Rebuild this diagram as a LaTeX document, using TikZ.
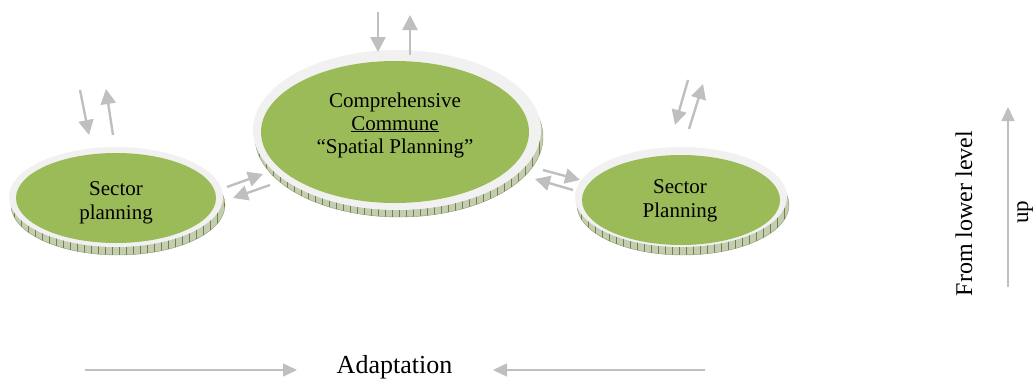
\documentclass[tikz,border=0pt]{standalone}
\usepackage{fontspec}
\setmainfont{Liberation Serif}
\usetikzlibrary{arrows.meta}
\usetikzlibrary{patterns.meta}
\usepgflibrary{shapes.geometric}
\usetikzlibrary{positioning}

\definecolor{leaf}{RGB}{155,187,89}
\definecolor{rimgray}{RGB}{241,241,241}
\definecolor{basegreen}{RGB}{196,204,178}
\definecolor{tick}{RGB}{112,132,72}
\definecolor{flowgray}{RGB}{191,191,191}

\begin{document}
\begin{tikzpicture}
  [x=1pt, y=-1pt,
  base/.style={shape=ellipse, inner sep=0pt, fill=basegreen, draw=tick!80, thin,
         postaction={pattern={Lines[angle=90,distance=7pt,line width=0.6pt]}, pattern color=tick}},
  rim/.style={shape=ellipse, inner sep=0pt, fill=rimgray},
  plan/.style={shape=ellipse, inner sep=0pt, fill=leaf},
  label text/.style={align=center, font=\fontsize{21}{24}\selectfont},
  flow/.style={draw=flowgray, line width=2.4pt, -{Triangle[length=15pt,width=15pt]}},
  longflow/.style={draw=flowgray, line width=1.5pt, -{Triangle[length=14pt,width=13pt]}}
  ]
  \useasboundingbox (0,0) rectangle (1034,380);

  % left sector
  \node (sec1base) [base, minimum width=214pt, minimum height=100pt] at (118,205) {};
  \node (sec1rim)  [rim,  minimum width=214pt, minimum height=100pt] at (116,197) {};
  \node (sec1)     [plan, minimum width=200pt, minimum height=90pt]  at (116,198) {};
  \node (sec1text) [label text] at (116,203) {Sector\\planning};

  % commune
  \node (commbase) [base, minimum width=288pt, minimum height=160pt] at (399,137) {};
  \node (commrim)  [rim,  minimum width=288pt, minimum height=160pt] at (397,130) {};
  \node (comm)     [plan, minimum width=268pt, minimum height=142pt] at (395,132) {};
  \node (commtext) [label text, font=\fontsize{21}{23}\selectfont] at (395,125)
        {Comprehensive\\\underline{Commune}\\“Spatial Planning”};

  % right sector
  \node (sec2base) [base, minimum width=212pt, minimum height=100pt] at (683,205) {};
  \node (sec2rim)  [rim,  minimum width=212pt, minimum height=100pt] at (681,197) {};
  \node (sec2)     [plan, minimum width=198pt, minimum height=90pt]  at (681,200) {};
  \node (sec2text) [label text] at (680,201) {Sector\\Planning};

  % loose ends of the arrows
  \coordinate (l1s) at (80,90);   \coordinate (l1e) at (89,135);
  \coordinate (l2s) at (113,135); \coordinate (l2e) at (106,89);
  \coordinate (lc1s) at (227,187); \coordinate (lc1e) at (263,174);
  \coordinate (lc2s) at (270,185); \coordinate (lc2e) at (233,198);
  \coordinate (c1s) at (378,12);  \coordinate (c1e) at (378,52);
  \coordinate (c2s) at (410,55);  \coordinate (c2e) at (410,15);
  \coordinate (cr1s) at (543,170); \coordinate (cr1e) at (580,180);
  \coordinate (cr2s) at (573,190); \coordinate (cr2e) at (535,179);
  \coordinate (r1s) at (688,80);  \coordinate (r1e) at (675,125);
  \coordinate (r2s) at (689,129); \coordinate (r2e) at (703,84);

  \draw [flow] (l1s) -- (l1e);
  \draw [flow] (l2s) -- (l2e);
  \draw [flow] (lc1s) -- (lc1e);
  \draw [flow] (lc2s) -- (lc2e);
  \draw [flow] (c1s) -- (c1e);
  \draw [flow] (c2s) -- (c2e);
  \draw [flow] (cr1s) -- (cr1e);
  \draw [flow] (cr2s) -- (cr2e);
  \draw [flow] (r1s) -- (r1e);
  \draw [flow] (r2s) -- (r2e);

  % adaptation
  \node (adapt) [anchor=base, font=\fontsize{26}{30}\selectfont] at (394.5,373) {Adaptation};
  \coordinate (ad1s) at (85,370);  \coordinate (ad1e) at (297,370);
  \coordinate (ad2s) at (705,370); \coordinate (ad2e) at (493,370);
  \draw [longflow] (ad1s) -- (ad1e);
  \draw [longflow] (ad2s) -- (ad2e);

  % from lower level
  \node (lower) [anchor=base, rotate=90, font=\fontsize{24}{28}\selectfont] at (972,213.5) {From lower level};
  \node (up)    [anchor=base, rotate=90, font=\fontsize{23}{27}\selectfont] at (1028,212) {up};
  \coordinate (ups) at (1008,287); \coordinate (upe) at (1008,107);
  \draw [longflow] (ups) -- (upe);

\end{tikzpicture}
\end{document}
